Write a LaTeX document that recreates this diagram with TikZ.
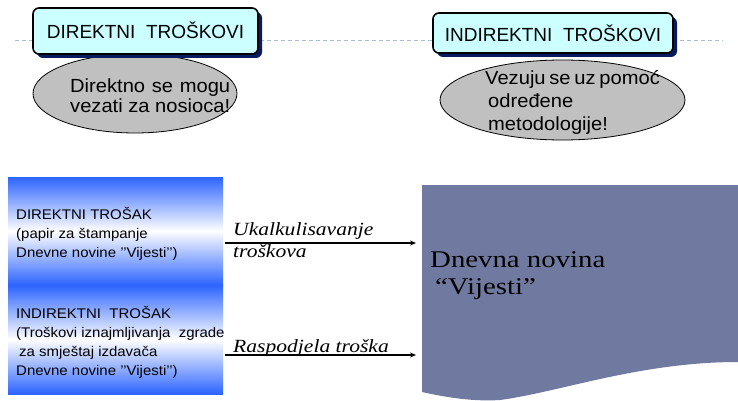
\documentclass[tikz,border=0pt]{standalone}
\usepackage{fontspec}
\setmainfont{Liberation Serif}
\newfontfamily\boxfont{Liberation Sans}
\newfontfamily\ellfont[FakeStretch=1.06]{Liberation Sans}
\newfontfamily\lowfont[FakeStretch=1.07]{Liberation Sans}
\newfontfamily\labfont[FakeStretch=1.16]{Liberation Serif}
\newfontfamily\docfont[FakeStretch=1.2]{Liberation Serif}
\usetikzlibrary{arrows.meta,shapes.geometric}
\definecolor{boxfill}{RGB}{204,255,255}
\definecolor{shadowcol}{RGB}{8,26,96}
\definecolor{ellfill}{RGB}{192,192,192}
\definecolor{dashcol}{RGB}{168,190,220}
\definecolor{gradblue}{RGB}{45,100,255}
\definecolor{docfill}{RGB}{112,122,160}
\tikzset{
  titlebox/.style={draw=black, line width=1.6pt, fill=boxfill, rounded corners=6pt},
  boxshadow/.style={fill=shadowcol, rounded corners=6pt},
  titletext/.style={inner sep=0pt, anchor=base, font=\boxfont\fontsize{19}{22}\selectfont},
  ellbox/.style={ellipse, draw=black, line width=0.8pt, fill=ellfill},
  elltext/.style={inner sep=0pt, anchor=base west, font=\ellfont\fontsize{19}{22}\selectfont},
  gradbox/.style={shading=axis, top color=gradblue, bottom color=gradblue, middle color=white, draw=none},
  lowtext/.style={inner sep=0pt, anchor=base west, font=\lowfont\fontsize{14}{19}\selectfont},
  labtext/.style={inner sep=0pt, anchor=base west, font=\labfont\itshape\fontsize{18.6}{22}\selectfont},
  doctext/.style={inner sep=0pt, anchor=base west, font=\docfont\fontsize{24}{27}\selectfont},
  flow/.style={line width=1.4pt, -{Stealth[length=6pt,width=5pt]}},
}
\begin{document}
\begin{tikzpicture}[x=1pt,y=-1pt]
\useasboundingbox (0,0) rectangle (738,401);
% dashed guide line
\draw[dashcol, line width=0.8pt, dash pattern=on 4pt off 3pt] (15,40) coordinate (dl) -- (723,40) coordinate (dr);
% ellipses
\node[ellbox, minimum width=204pt, minimum height=79pt] (e1) at (135,93.5) {};
\node[ellbox, minimum width=245pt, minimum height=80pt] (e2) at (562.5,100) {};
% title boxes with shadows
\fill[boxshadow] (37,12) rectangle (262,58);
\draw[titlebox] (33,8) rectangle (258,54);
\node[titletext] (t1) at (145.5,39) {DIREKTNI~ TROŠKOVI};
\fill[boxshadow] (437,17) rectangle (677,57);
\draw[titlebox] (433,13) rectangle (673,53);
\node[titletext] (t2) at (553,42) {INDIREKTNI~ TROŠKOVI};
% ellipse texts
\node[elltext] (e1a) at (70,93) {\makebox[160pt][s]{Direktno se mogu}};
\node[elltext] (e1b) at (70,113) {\makebox[160pt][s]{vezati za nosioca!}};
\node[elltext] (e2a) at (485,85) {\makebox[173pt][s]{Vezuju se uz pomoć}};
\node[elltext] (e2b) at (488,107.5) {određene};
\node[elltext] (e2c) at (488,130) {metodologije!};
% gradient boxes
\path[gradbox] (8,177) rectangle (223,285);
\path[gradbox] (8,285) rectangle (223,394);
\node[lowtext] (d1) at (16,219) {DIREKTNI TROŠAK};
\node[lowtext] (d2) at (16,238) {(papir za štampanje};
\node[lowtext] (d3) at (16,257) {Dnevne novine ’’Vijesti’’)};
\node[lowtext] (i1) at (16,318) {INDIREKTNI~ TROŠAK};
\node[lowtext] (i2) at (16,337) {(Troškovi iznajmljivanja~ zgrade};
\node[lowtext] (i3) at (19,356) {za smještaj izdavača};
\node[lowtext] (i4) at (16,375) {Dnevne novine ’’Vijesti’’)};
% document shape
\fill[docfill] (422,185) -- (738,185) -- (738,362)
  .. controls (640,362) and (560,392) .. (500,400)
  .. controls (470,402) and (440,396) .. (422,392) -- cycle;
\node[doctext] (n1) at (430,267) {Dnevna novina};
\node[doctext] (n2) at (435,294) {“Vijesti”};
% arrows
\coordinate (a1s) at (225,243);
\coordinate (a1e) at (416,243);
\coordinate (a2s) at (225,355);
\coordinate (a2e) at (416,355);
\draw[flow] (a1s) -- (a1e);
\draw[flow] (a2s) -- (a2e);
\node[labtext] (l1) at (233,235) {Ukalkulisavanje};
\node[labtext] (l2) at (233,257) {troškova};
\node[labtext] (l3) at (233,352) {Raspodjela troška};
\end{tikzpicture}
\end{document}
